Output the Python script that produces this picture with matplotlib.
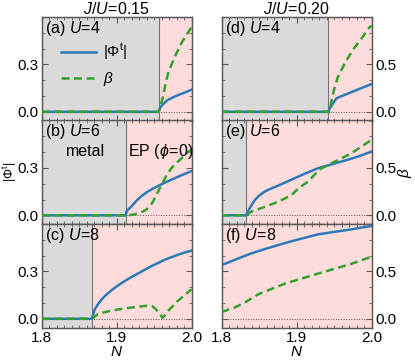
import numpy as np
import matplotlib
matplotlib.use('Agg')
import matplotlib.pyplot as plt
from matplotlib.ticker import MultipleLocator, FixedLocator

plt.rcParams['font.family'] = ['Liberation Sans', 'DejaVu Sans']
plt.rcParams['font.size'] = 11
plt.rcParams['mathtext.fontset'] = 'custom'
plt.rcParams['mathtext.rm'] = 'Liberation Sans'
plt.rcParams['mathtext.it'] = 'Liberation Sans:italic'

# transition points N_c (gray = metal, pink = EP)
n_c = {'a': 1.956, 'b': 1.912, 'c': 1.867, 'd': 1.942, 'e': 1.833, 'f': 1.8}
u_vals = {'a': 4, 'b': 6, 'c': 8, 'd': 4, 'e': 6, 'f': 8}

# |Phi^t| curves
n_phi_a = [1.8, 1.956, 1.958, 1.962, 1.968, 1.975, 1.982, 1.989, 2.0]
phi_a = [0, 0, 0.028, 0.049, 0.075, 0.091, 0.106, 0.119, 0.14]
n_phi_b = [1.8, 1.912, 1.913, 1.915, 1.92, 1.927, 1.933, 1.942, 1.951, 1.96, 1.969, 1.978, 1.987, 2.0]
phi_b = [0, 0, 0.02, 0.035, 0.058, 0.095, 0.122, 0.152, 0.176, 0.197, 0.217, 0.236, 0.255, 0.28]
n_phi_c = [1.8, 1.867, 1.869, 1.871, 1.875, 1.88, 1.886, 1.893, 1.902, 1.911, 1.92, 1.929,
           1.938, 1.947, 1.956, 1.964, 1.973, 1.982, 1.991, 2.0]
phi_c = [0, 0, 0.035, 0.062, 0.092, 0.123, 0.152, 0.18, 0.212, 0.24, 0.265, 0.288,
         0.312, 0.335, 0.355, 0.374, 0.39, 0.406, 0.42, 0.432]
n_phi_d = [1.8, 1.942, 1.944, 1.947, 1.953, 1.96, 1.967, 1.98, 1.99, 2.0]
phi_d = [0, 0, 0.02, 0.043, 0.085, 0.1, 0.113, 0.138, 0.157, 0.176]
n_phi_e = [1.8, 1.833, 1.835, 1.837, 1.844, 1.85, 1.857, 1.866, 1.875, 1.889, 1.902, 1.915,
           1.928, 1.942, 1.955, 1.969, 1.982, 1.991, 2.0]
phi_e = [0, 0, 0.025, 0.043, 0.096, 0.125, 0.149, 0.17, 0.187, 0.217, 0.245, 0.272,
         0.297, 0.316, 0.334, 0.353, 0.372, 0.388, 0.404]
n_phi_f = [1.8, 1.82, 1.84, 1.862, 1.884, 1.906, 1.928, 1.95, 1.973, 1.986, 2.0]
phi_f = [0.34, 0.378, 0.415, 0.448, 0.479, 0.507, 0.534, 0.55, 0.566, 0.577, 0.587]

# beta curves
n_beta_a = [1.8, 1.956, 1.958, 1.961, 1.965, 1.969, 1.978, 1.987, 1.997, 2.0]
beta_a = [0, 0, 0.05, 0.135, 0.29, 0.42, 0.59, 0.735, 0.86, 0.89]
n_beta_b = [1.8, 1.912, 1.918, 1.924, 1.931, 1.938, 1.943, 1.947, 1.951, 1.955, 1.962,
            1.967, 1.973, 1.98, 1.987, 1.996, 2.0]
beta_b = [0, 0, 0.003, 0.01, 0.025, 0.053, 0.085, 0.125, 0.185, 0.248, 0.355,
          0.43, 0.498, 0.555, 0.605, 0.673, 0.69]
n_beta_c = [1.8, 1.867, 1.875, 1.884, 1.893, 1.911, 1.929, 1.942, 1.947, 1.951, 1.956,
            1.961, 1.965, 1.969, 1.982, 1.998, 2.0]
beta_c = [0, 0, 0.05, 0.07, 0.087, 0.11, 0.128, 0.14, 0.135, 0.11, 0.067,
          0.01, 0.045, 0.087, 0.193, 0.3, 0.31]
n_beta_d = [1.8, 1.943, 1.946, 1.949, 1.955, 1.964, 1.975, 1.987, 1.997, 2.0]
beta_d = [0, 0, 0.1, 0.21, 0.37, 0.51, 0.655, 0.78, 0.89, 0.91]
n_beta_e = [1.8, 1.833, 1.839, 1.857, 1.875, 1.893, 1.902, 1.915, 1.924, 1.933, 1.951, 1.973, 2.0]
beta_e = [0, 0, 0.037, 0.088, 0.142, 0.212, 0.283, 0.355, 0.43, 0.495, 0.567, 0.655, 0.797]
n_beta_f = [1.8, 1.817, 1.831, 1.849, 1.884, 1.928, 1.973, 2.0]
beta_f = [0.072, 0.118, 0.172, 0.26, 0.37, 0.476, 0.58, 0.656]

phi_data = {'a': (n_phi_a, phi_a), 'b': (n_phi_b, phi_b), 'c': (n_phi_c, phi_c),
            'd': (n_phi_d, phi_d), 'e': (n_phi_e, phi_e), 'f': (n_phi_f, phi_f)}
beta_data = {'a': (n_beta_a, beta_a), 'b': (n_beta_b, beta_b), 'c': (n_beta_c, beta_c),
             'd': (n_beta_d, beta_d), 'e': (n_beta_e, beta_e), 'f': (n_beta_f, beta_f)}

col_titles = [r'$J/U\!=\!0.15$', r'$J/U\!=\!0.20$']

c_blue = '#2a7ab9'
c_green = '#33a02c'
c_gray = '#dadada'
c_pink = '#ffdcdc'
c_frame = '0.35'

W, H = 415, 362
fig = plt.figure(figsize=(W / 100, H / 100), dpi=100)

x_left = [41.7, 221.7]
ax_w = 150
y_top = 17
ax_h = 103.5
phi_lim = (-0.055, 0.6)
scale = 5 / 3

labels = [['a', 'b', 'c'], ['d', 'e', 'f']]
for col in range(2):
    for row in range(3):
        key = labels[col][row]
        rect = [x_left[col] / W, 1 - (y_top + (row + 1) * ax_h) / H, ax_w / W, ax_h / H]
        ax = fig.add_axes(rect)
        ax2 = ax.twinx()

        nc = n_c[key]
        if nc > 1.8:
            ax.axvspan(1.8, nc, color=c_gray, lw=0, zorder=0)
            ax.axvline(nc, color='0.45', lw=0.8, zorder=1)
        ax.axvspan(nc, 2.0, color=c_pink, lw=0, zorder=0)
        ax.axhline(0, color='0.3', ls=':', lw=0.7, zorder=1)

        n, p = phi_data[key]
        l1, = ax.plot(n, p, color=c_blue, lw=1.8, zorder=3, label=r'$|\Phi^{\rm t}|$')
        n, b = beta_data[key]
        l2, = ax2.plot(n, b, color=c_green, lw=1.8, ls=(0, (3.2, 1.8)), zorder=3, label=r'$\beta$')

        ax.set_xlim(1.8, 2.0)
        ax.set_ylim(*phi_lim)
        ax2.set_ylim(phi_lim[0] * scale, phi_lim[1] * scale)

        ax.xaxis.set_major_locator(FixedLocator([1.8, 1.9, 2.0]))
        ax.xaxis.set_minor_locator(MultipleLocator(0.01))
        ax.yaxis.set_major_locator(FixedLocator([0.0, 0.3]))
        ax.yaxis.set_minor_locator(MultipleLocator(0.1))
        ax2.yaxis.set_major_locator(FixedLocator([0.0, 0.5]))
        ax2.yaxis.set_minor_locator(MultipleLocator(1 / 6))
        ax.yaxis.set_major_formatter(plt.FuncFormatter(lambda v, p: f'{v:.1f}'))
        ax2.yaxis.set_major_formatter(plt.FuncFormatter(lambda v, p: f'{v:.1f}'))

        ax.tick_params(which='both', direction='in', top=True, bottom=True,
                       left=True, right=False, color=c_frame, labelsize=11, pad=2.5)
        ax.tick_params(which='major', length=4, width=0.8)
        ax.tick_params(which='minor', length=2, width=0.6)
        ax2.tick_params(which='both', direction='in', right=True, left=False,
                        color=c_frame, labelsize=11, pad=2.5)
        ax2.tick_params(which='major', length=4, width=0.8)
        ax2.tick_params(which='minor', length=2, width=0.6)

        if col == 0:
            ax2.tick_params(labelright=False)
        else:
            ax.tick_params(labelleft=False)
        if row < 2:
            ax.tick_params(labelbottom=False)
        else:
            ax.set_xlabel(r'$N$', fontsize=11, labelpad=0)

        for a in (ax, ax2):
            for s in a.spines.values():
                s.set_color(c_frame)
                s.set_linewidth(0.9)

        ax2.text(0.02, 0.985, f'({key}) $U\\!=\\!{u_vals[key]}$', transform=ax.transAxes,
                 ha='left', va='top', fontsize=11.5, zorder=5)

        if row == 0:
            ax.set_title(col_titles[col], fontsize=11.5, pad=1.5)
        if key == 'a':
            ax2.legend(handles=[l1, l2], loc='upper left', bbox_to_anchor=(0.13, 0.76),
                       frameon=False, handlelength=2.3, fontsize=11, borderaxespad=0,
                       labelspacing=0.5, handletextpad=0.45, borderpad=0)
        if key == 'b':
            ax2.text(0.29, 0.7, 'metal', transform=ax.transAxes, ha='center',
                     va='center', fontsize=11.5)
            ax2.text(1.015, 0.7, r'EP ($\phi\!=\!0$)', transform=ax.transAxes, ha='right',
                     va='center', fontsize=11.5)
        if key == 'e':
            ax2.set_ylabel(r'$\beta$', fontsize=11)
            ax2.yaxis.set_label_coords(1.165, 0.5)

fig.text(1.0 / W, 1 - 172 / H, r'$|\Phi^{\rm t}|$', rotation=90, ha='left', va='center',
         fontsize=9)

fig.savefig('out.png', dpi=100)
